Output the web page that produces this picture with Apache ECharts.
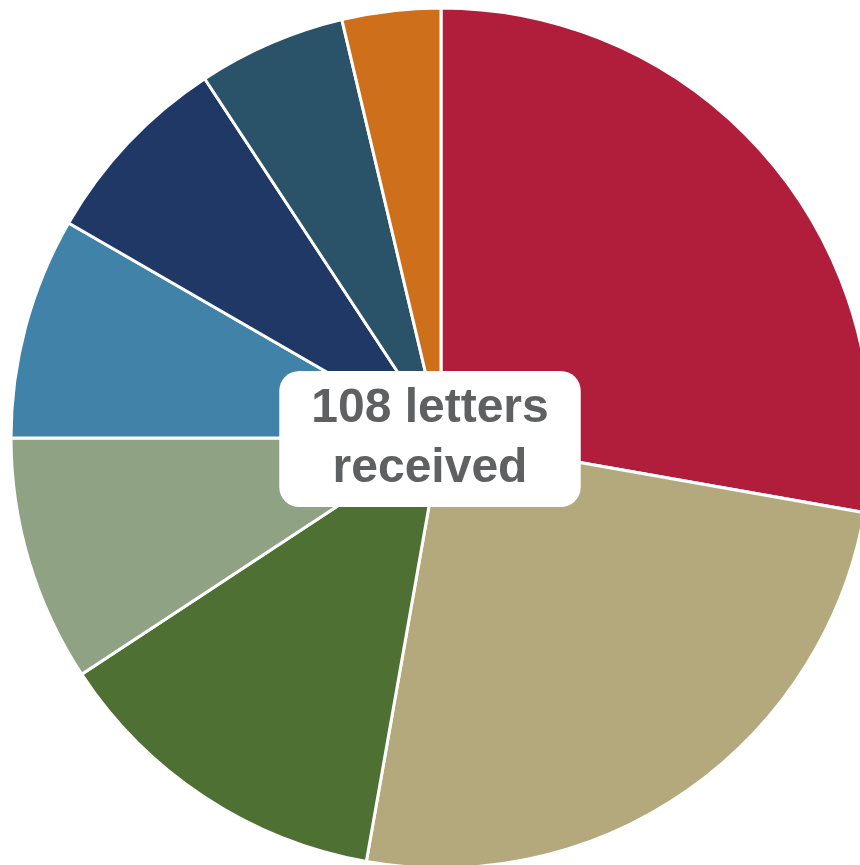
<!DOCTYPE html>
<html>
<head>
<meta charset="utf-8">
<script src="https://cdn.jsdelivr.net/npm/echarts@6/dist/echarts.min.js"></script>
<style>
    html, body { margin: 0; padding: 0; background: #fff; }
    #chart { width: 860px; height: 865px; }
</style>
</head>
<body>
<div id="chart"></div>
<script>
// Slice data, clockwise from 12 o'clock
var slice_names = ['A', 'B', 'C', 'D', 'E', 'F', 'G', 'H'];
var slice_values = [30, 27, 14, 10, 9, 8, 6, 4];
var slice_colors = ['#b01e3c', '#b3a97c', '#4e7032', '#8fa384', '#4183a8', '#1f3866', '#2a5268', '#cd6f1b'];
var center_text = '108 letters\nreceived';

var chart = echarts.init(document.getElementById('chart'));

var pie_data = [];
for (var i = 0; i < slice_values.length; i++) {
    pie_data.push({
        name: slice_names[i],
        value: slice_values[i],
        itemStyle: { color: slice_colors[i] }
    });
}

chart.setOption({
    animation: false,
    series: [{
        type: 'pie',
        center: [441, 438],
        radius: 430,
        startAngle: 90,
        clockwise: true,
        avoidLabelOverlap: false,
        label: { show: false },
        labelLine: { show: false },
        emphasis: { disabled: true },
        itemStyle: {
            borderColor: '#fff',
            borderWidth: 3
        },
        data: pie_data
    }],
    graphic: [{
        type: 'text',
        x: 430,
        y: 439,
        z: 100,
        style: {
            text: center_text,
            font: 'bold 48px "Liberation Sans", Arial, sans-serif',
            fill: '#5f6062',
            align: 'center',
            verticalAlign: 'middle',
            lineHeight: 60,
            backgroundColor: '#fff',
            padding: [9, 32, 7, 32],
            borderRadius: 20
        }
    }]
});
</script>
</body>
</html>
